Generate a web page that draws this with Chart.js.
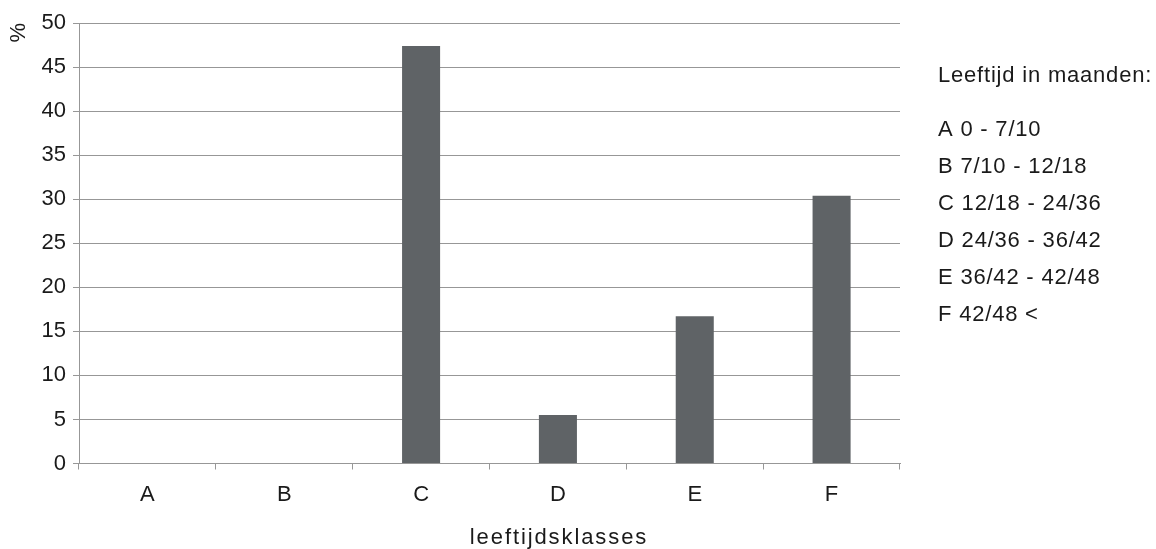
<!DOCTYPE html>
<html>
<head>
<meta charset="utf-8">
<script src="https://cdn.jsdelivr.net/npm/chart.js@4/dist/chart.umd.min.js"></script>
<style>
  html, body { margin: 0; padding: 0; background: #ffffff; }
  #wrap { width: 1156px; height: 549px; }
</style>
</head>
<body>
<div id="wrap"><canvas id="c" width="1156" height="549"></canvas></div>
<script>
// Age classes and the share of each class (%)
const categories = ['A', 'B', 'C', 'D', 'E', 'F'];
const percentages = [0, 0, 47.4, 5.5, 16.7, 30.4];
const yTicks = [0, 5, 10, 15, 20, 25, 30, 35, 40, 45, 50];

const xTitle = 'leeftijdsklasses';
const yTitle = '%';
const legendTitle = 'Leeftijd in maanden:';
const legendLines = [
  'A 0 - 7/10',
  'B 7/10 - 12/18',
  'C 12/18 - 24/36',
  'D 24/36 - 36/42',
  'E 36/42 - 42/48',
  'F 42/48 <'
];

const FONT = '"Liberation Sans", Arial, sans-serif';
const TEXT = '#1a1a1a';
const GRID = '#979797';

// Draws the x-axis title (letter-spaced) and the class description list
const sidePanel = {
  id: 'sidePanel',
  afterDraw(chart) {
    const ctx = chart.ctx;
    ctx.save();
    ctx.fillStyle = TEXT;
    ctx.textBaseline = 'middle';

    ctx.font = '22px ' + FONT;
    ctx.textAlign = 'center';
    ctx.letterSpacing = '1.9px';
    ctx.fillText(xTitle, 559, 538);

    ctx.letterSpacing = '0.8px';
    ctx.textAlign = 'left';
    ctx.fillText(legendTitle, 938, 76);
    legendLines.forEach((line, i) => {
      ctx.fillText(line, 938, 130 + i * 36.9);
    });
    ctx.restore();
  }
};

new Chart(document.getElementById('c'), {
  type: 'bar',
  data: {
    labels: categories,
    datasets: [{
      data: percentages,
      backgroundColor: '#5f6366',
      borderWidth: 0,
      categoryPercentage: 1,
      barPercentage: 0.278
    }]
  },
  options: {
    responsive: false,
    animation: false,
    layout: { padding: { left: 0, right: 256, top: 23, bottom: 0 } },
    plugins: {
      legend: { display: false },
      tooltip: { enabled: false }
    },
    scales: {
      x: {
        grid: {
          offset: true,
          drawOnChartArea: false,
          drawTicks: true,
          tickLength: 6,
          color: GRID
        },
        border: { display: true, color: GRID },
        ticks: {
          color: TEXT,
          font: { family: FONT, size: 22 },
          padding: 12
        },
        afterFit(scale) { scale.height = 85.5; }
      },
      y: {
        min: 0,
        max: 50,
        afterBuildTicks(scale) { scale.ticks = yTicks.map(v => ({ value: v })); },
        grid: {
          color: GRID,
          tickLength: 6
        },
        border: { display: true, color: GRID },
        ticks: {
          color: TEXT,
          font: { family: FONT, size: 22 },
          padding: 7
        },
        title: {
          display: true,
          text: yTitle,
          align: 'end',
          color: TEXT,
          font: { family: FONT, size: 22 },
          padding: { top: 6, bottom: 0 }
        },
        afterFit(scale) { scale.width = 79; }
      }
    }
  },
  plugins: [sidePanel]
});
</script>
</body>
</html>
